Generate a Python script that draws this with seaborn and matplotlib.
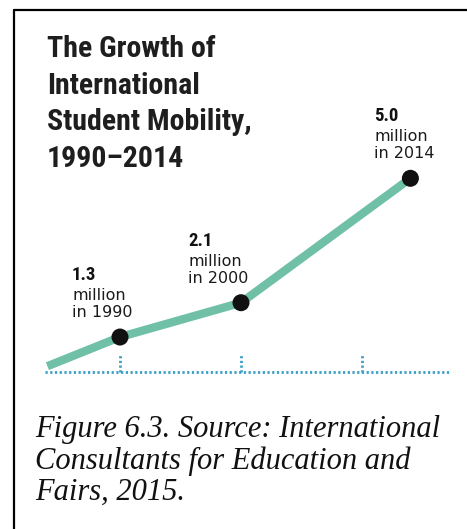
import matplotlib
matplotlib.use("Agg")
import os
import matplotlib.pyplot as plt
from matplotlib.lines import Line2D
from matplotlib import font_manager as fm
import seaborn as sns
import pandas as pd

# ---- data ----
years = [1984, 1990, 2000, 2014]
students_millions = [0.62, 1.3, 2.1, 5.0]
labeled_years = [1990, 2000, 2014]
labeled_values = [1.3, 2.1, 5.0]
tick_years = [1990, 2000, 2010]
title_lines = ["The Growth of", "International", "Student Mobility,", "1990\u20132014"]
caption_lines = ["Figure 6.3. Source: International",
                 "Consultants for Education and",
                 "Fairs, 2015."]

sns.set_theme(style="white")
plt.rcParams["font.family"] = ["DejaVu Sans"]

# pick a condensed bold font file if available
def find_condensed_bold():
    files = [f.fname for f in fm.fontManager.ttflist]
    prefs = ["LiberationSansNarrow-Bold.", "RobotoCondensed-Bold", "Roboto-Condensed-Bold",
             "RobotoCondensed-SemiBold", "OpenSans_Condensed-Bold", "OpenSansCondensed-Bold",
             "DejaVuSansCondensed-Bold."]
    for p in prefs:
        for fn in files:
            if p.lower() in os.path.basename(fn).lower():
                return fm.FontProperties(fname=fn)
    for f in fm.fontManager.ttflist:
        if f.weight in ("bold", 700) and ("condensed" in str(f.stretch) or "Narrow" in f.name
                                          or "Condensed" in f.name):
            return fm.FontProperties(fname=f.fname)
    return fm.FontProperties(family="DejaVu Sans", weight="bold", stretch="condensed")

COND = find_condensed_bold()

W, H = 467, 529
fig = plt.figure(figsize=(W / 100, H / 100), dpi=100)
fig.patch.set_facecolor("white")
ax = fig.add_axes([0, 0, 1, 1])
ax.set_facecolor("none")

# pixel <-> data mapping
px_per_year = 12.1
x0 = 1990 - 120 / px_per_year
px_per_unit = 42.9
y_zero_px = 392.8
ax.set_xlim(x0, x0 + W / px_per_year)
ax.set_ylim((y_zero_px - H) / px_per_unit, y_zero_px / px_per_unit)
ax.axis("off")

def fx(px):
    return px / W

def fy(py):
    return 1 - py / H

LINE_C = "#6fc0a6"
DOT_C = "#3a9fc6"

# baseline (dotted)
base_v = (y_zero_px - 372) / px_per_unit
tick_top_v = (y_zero_px - 355) / px_per_unit
ax.axhline(base_v, xmin=fx(45), xmax=fx(450), color=DOT_C, lw=2.0,
           linestyle=(0, (0.8, 0.9)), zorder=1)
for ty in tick_years:
    ax.plot([ty, ty], [base_v, tick_top_v], color=DOT_C, lw=2.0,
            linestyle=(0, (0.8, 0.9)), zorder=1)

df = pd.DataFrame({"year": years, "value": students_millions})
sns.lineplot(data=df, x="year", y="value", ax=ax, color=LINE_C, lw=6,
             solid_capstyle="butt", zorder=2)
dfp = pd.DataFrame({"year": labeled_years, "value": labeled_values})
sns.scatterplot(data=dfp, x="year", y="value", ax=ax, color="#111111",
                s=150, edgecolor="none", zorder=3)

# point labels (offsets in pixels: left edge, last baseline relative to point)
offsets_px = [(-48, -20), (-53, -20), (-36, -20)]
for (yr, val), (dx, dy) in zip(zip(labeled_years, labeled_values), offsets_px):
    ax.annotate("in %d" % yr, (yr, val), xytext=(dx * 0.72, -dy * 0.72),
                textcoords="offset points", ha="left", va="baseline",
                fontsize=11.5, color="#1a1a1a", family="DejaVu Sans")
    ax.annotate("million", (yr, val), xytext=(dx * 0.72, (-dy + 17) * 0.72),
                textcoords="offset points", ha="left", va="baseline",
                fontsize=11.5, color="#1a1a1a", family="DejaVu Sans")
    ax.annotate("%.1f" % val, (yr, val), xytext=(dx * 0.72, (-dy + 37) * 0.72),
                textcoords="offset points", ha="left", va="baseline",
                fontproperties=COND, fontsize=13.5, color="#111111")

# title
for i, line in enumerate(title_lines):
    fig.text(fx(47), fy(57 + i * 36.7), line, ha="left", va="baseline",
             fontproperties=COND, fontsize=21.5, color="#1e1e1e")

# caption
for i, line in enumerate(caption_lines):
    fig.text(fx(35), fy(437 + i * 31.5), line, ha="left", va="baseline",
             fontsize=22, color="#111111", family="Liberation Serif",
             style="italic")

# frame (top and left edges)
fig.add_artist(Line2D([fx(14), 1.0], [fy(10), fy(10)], color="black", lw=1.6,
                      transform=fig.transFigure))
fig.add_artist(Line2D([fx(14), fx(14)], [fy(10), 0.0], color="black", lw=1.6,
                      transform=fig.transFigure))

fig.savefig("out.png", dpi=100, facecolor="white")
